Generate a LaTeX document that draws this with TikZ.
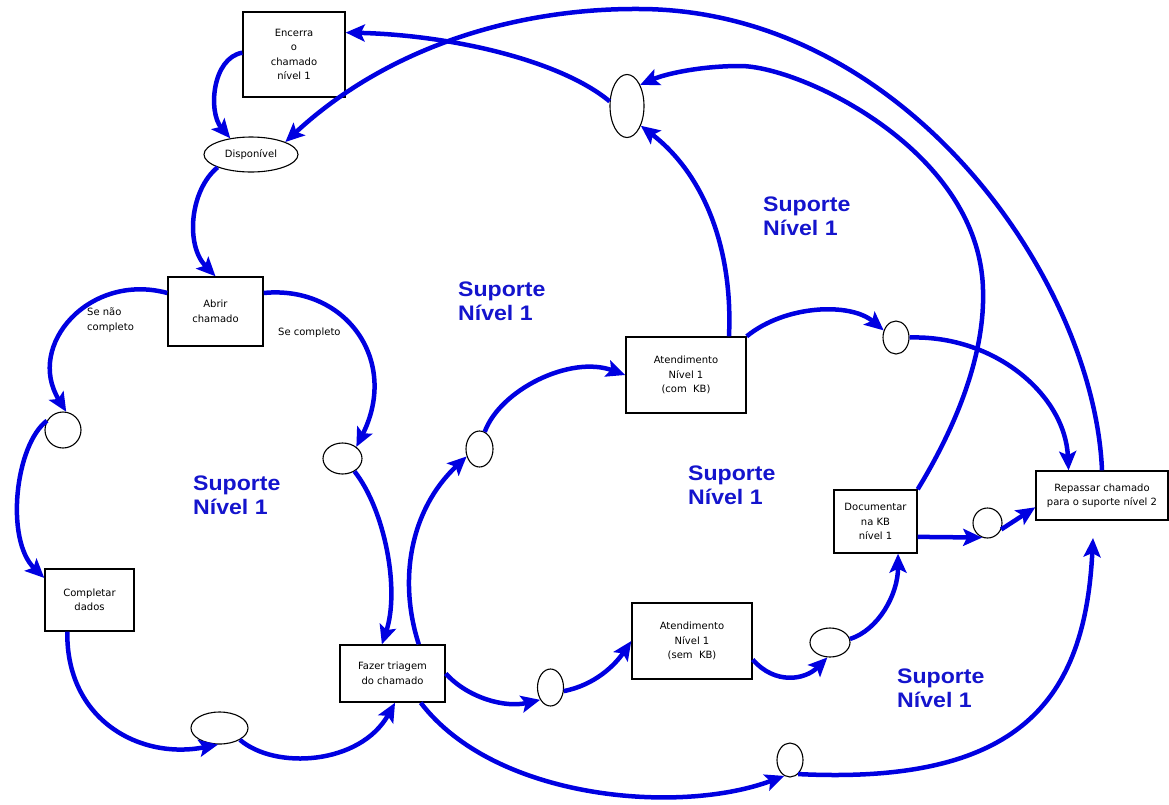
\documentclass[tikz,border=0pt]{standalone}
\usepackage{fontspec}
\setmainfont{DejaVu Sans}
\newfontfamily\labelfont{Liberation Sans}[FakeStretch=1.1]
\usetikzlibrary{arrows.meta,shapes.geometric}
\definecolor{flowblue}{RGB}{0,0,225}
\definecolor{labelblue}{RGB}{20,20,205}

\begin{document}
\begin{tikzpicture}[x=1pt,y=-1pt,
  stepbox/.style={draw=black, line width=1.4pt, fill=white, inner sep=0pt,
    align=center, font=\fontsize{10}{14.5}\selectfont},
  state/.style={ellipse, draw=black, line width=1.1pt, fill=white, inner sep=0pt,
    font=\fontsize{10}{12}\selectfont},
  flow/.style={draw=flowblue, line width=4.5pt,
    -{Stealth[length=19pt,width=17pt,inset=4pt]}},
  zone/.style={anchor=north west, inner sep=0pt, align=left, text=labelblue,
    font=\labelfont\bfseries\fontsize{21}{24}\selectfont},
  note/.style={anchor=north west, inner sep=0pt, align=left,
    font=\fontsize{10}{14.5}\selectfont}]

% page frame
\useasboundingbox (0,0) rectangle (1169,804);
\fill[white] (0,0) rectangle (1169,804);

% process steps
\node[stepbox, minimum width=102pt, minimum height=85pt] (enc)   at (294,54.5)  {Encerra\\o\\chamado\\nível 1};
\node[stepbox, minimum width=95pt,  minimum height=69pt] (abrir) at (215.5,311.5) {Abrir\\chamado};
\node[stepbox, minimum width=89pt,  minimum height=62pt] (comp)  at (89.5,600)  {Completar\\dados};
\node[stepbox, minimum width=105pt, minimum height=57pt] (triag) at (392.5,673.5) {Fazer triagem\\do chamado};
\node[stepbox, minimum width=120pt, minimum height=76pt] (comkb) at (686,375)   {Atendimento\\Nível 1\\(com\ \ KB)};
\node[stepbox, minimum width=120pt, minimum height=76pt] (semkb) at (692,641)   {Atendimento\\Nível 1\\(sem\ \ KB)};
\node[stepbox, minimum width=83pt,  minimum height=63pt] (doc)   at (875.5,521.5) {Documentar\\na KB\\nível 1};
\node[stepbox, minimum width=132pt, minimum height=49pt] (rep)   at (1102,495.5) {Repassar chamado\\para o suporte nível 2};

% states
\node[state, minimum width=94pt, minimum height=35pt] (disp) at (251,154.5) {Disponível};
\node[state, minimum width=34pt, minimum height=63pt] (topE) at (627,106) {};
\node[state, minimum width=36pt, minimum height=36pt] (cL)   at (63,430) {};
\node[state, minimum width=39pt, minimum height=31pt] (cR)   at (342.5,458.5) {};
\node[state, minimum width=57pt, minimum height=32pt] (botE) at (219.5,728) {};
\node[state, minimum width=27pt, minimum height=36pt] (eA)   at (479.5,449) {};
\node[state, minimum width=26pt, minimum height=33pt] (eB)   at (896,337.5) {};
\node[state, minimum width=26pt, minimum height=37pt] (eC)   at (550.5,687.5) {};
\node[state, minimum width=40pt, minimum height=29pt] (eD)   at (830,642.5) {};
\node[state, minimum width=26pt, minimum height=34pt] (eE)   at (790,760) {};
\node[state, minimum width=29pt, minimum height=30pt] (eF)   at (987.5,523) {};

\coordinate (repin) at (1093,538);

% zone labels
\node[zone] (z1) at (458,282) {Suporte\\Nível 1};
\node[zone] (z2) at (763,197) {Suporte\\Nível 1};
\node[zone] (z3) at (193,476) {Suporte\\Nível 1};
\node[zone] (z4) at (688,466) {Suporte\\Nível 1};
\node[zone] (z5) at (897,669) {Suporte\\Nível 1};

% branch notes
\node[note] (n1) at (87,308) {Se não\\completo};
\node[note] (n2) at (278,328) {Se completo};

% flows of the left loop
\draw[flow] (enc.178) .. controls (212,58) and (208,112) .. (disp.142);
\draw[flow] (disp.-159) .. controls (190,190) and (185,245) .. (abrir.north);
\draw[flow] (abrir.159) .. controls (90,272) and (25,345) .. (cL.80);
\draw[flow] (abrir.21) .. controls (345,285) and (400,360) .. (cR.40);
\draw[flow] (cR.-47) .. controls (385,510) and (400,590) .. (triag.110);
\draw[flow] (cL.150) .. controls (15,445) and (5,540) .. (comp.154);
\draw[flow] (comp.-125) .. controls (66,720) and (140,760) .. (botE.-95);
\draw[flow] (botE.-30) .. controls (275,770) and (360,765) .. (triag.-85);

% flows of the service paths
\draw[flow] (triag.east) .. controls (468,698) and (505,708) .. (eC.-130);
\draw[flow] (eC.-15) .. controls (595,685) and (615,665) .. (semkb.west);
\draw[flow] (semkb.-17) .. controls (775,685) and (805,680) .. (eD.-100);
\draw[flow] (eD.10) .. controls (878,630) and (898,595) .. (doc.-55);
\draw[flow] (triag.48) .. controls (398,580) and (410,510) .. (eA.-150);
\draw[flow] (eA.73) .. controls (500,390) and (570,355) .. (comkb.west);
\draw[flow] (comkb.north east) .. controls (785,305) and (850,302) .. (eB.150);
\draw[flow] (eB.east) .. controls (995,335) and (1065,395) .. (rep.143);
\draw[flow] (doc.-20.5) -- (eF.-110);
\draw[flow] (eF.-25) -- (rep.-170);
\draw[flow] (eE.-60) .. controls (1020,785) and (1085,700) .. (repin);
\draw[flow] (triag.-46) .. controls (495,800) and (680,815) .. (eE.-110);

% flows back to the top
\draw[flow] (comkb.42) .. controls (733,250) and (705,175) .. (topE.-55);
\draw[flow] (doc.north east) .. controls (960,420) and (985,350) .. (983,290)
  .. controls (980,150) and (800,66) .. (740,66)
  .. controls (700,66) and (665,74) .. (topE.58);
\draw[flow] (topE.165) .. controls (560,60) and (450,35) .. (enc.23);
\draw[flow] (rep.north) .. controls (1094,280) and (905,10) .. (640,9)
  .. controls (520,8) and (390,45) .. (disp.20);

\end{tikzpicture}
\end{document}
